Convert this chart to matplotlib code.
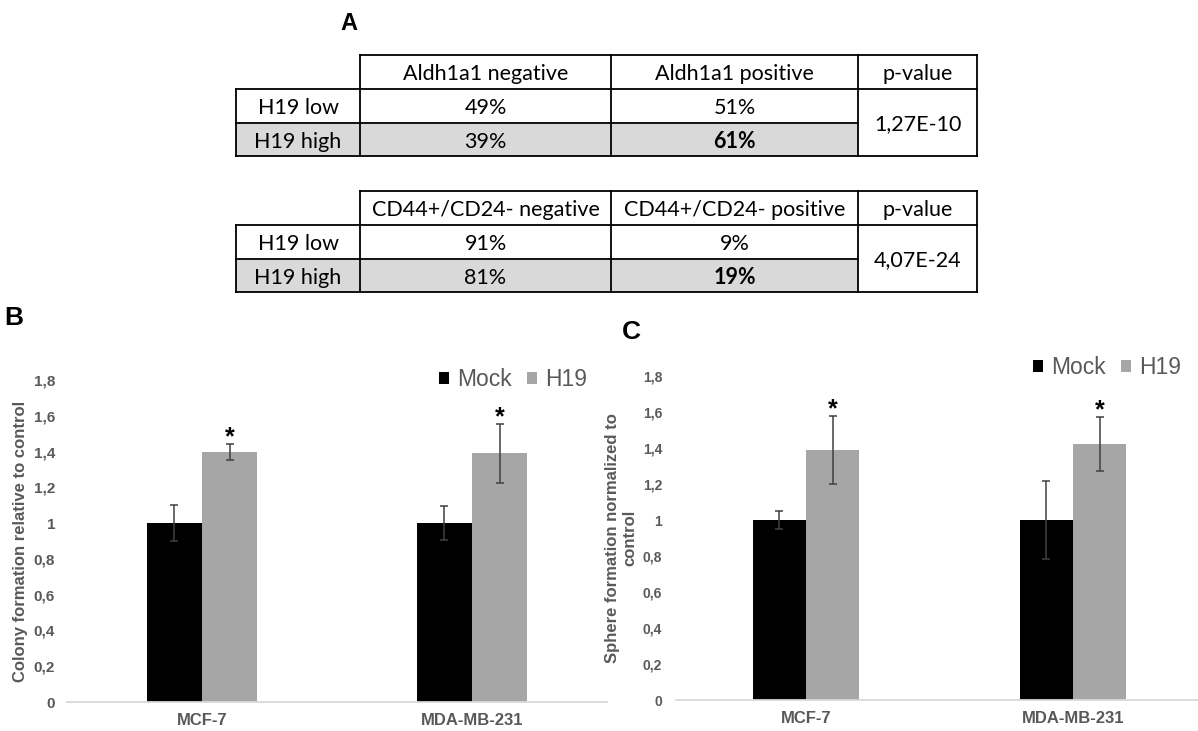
import matplotlib
matplotlib.use('Agg')
import matplotlib.pyplot as plt
import numpy as np
from matplotlib.patches import Rectangle, Patch

# datos de las tablas (panel A)
row_names = ['H19 low', 'H19 high']
aldh_cols = ['Aldh1a1 negative', 'Aldh1a1 positive', 'p-value']
aldh_vals = [['49%', '51%'], ['39%', '61%']]
aldh_p = '1,27E-10'
cd_cols = ['CD44+/CD24- negative', 'CD44+/CD24- positive', 'p-value']
cd_vals = [['91%', '9%'], ['81%', '19%']]
cd_p = '4,07E-24'

# datos de las barras (paneles B y C)
cells = ['MCF-7', 'MDA-MB-231']
series = ['Mock', 'H19']
colony_mock = [1.0, 1.0]
colony_mock_err = [0.10, 0.095]
colony_h19 = [1.40, 1.39]
colony_h19_err = [0.045, 0.165]
sphere_mock = [1.0, 1.0]
sphere_mock_err = [0.05, 0.215]
sphere_h19 = [1.39, 1.425]
sphere_h19_err = [0.19, 0.15]
yticks = [round(0.2 * i, 1) for i in range(10)]

grey_txt = '#595959'
tick_font = 'Liberation Sans'
table_font = 'Lato'
table_size = 15.5

fig = plt.figure(figsize=(11.98, 7.31), dpi=100)

# capa en pixeles para las tablas y letras
over = fig.add_axes([0, 0, 1, 1])
over.set_xlim(0, 1198)
over.set_ylim(731, 0)
over.axis('off')


def draw_table(ax, top, cols, vals, pval):
    xs = [236, 360, 611, 858, 977]
    ys = [top, top + 34, top + 68, top + 101]
    ax.add_patch(Rectangle((xs[0], ys[2]), xs[3] - xs[0], ys[3] - ys[2],
                           facecolor='#d9d9d9', edgecolor='none'))
    lw = 1.3
    ax.plot([xs[1], xs[4]], [ys[0], ys[0]], color='black', lw=lw)
    ax.plot([xs[0], xs[4]], [ys[1], ys[1]], color='black', lw=lw)
    ax.plot([xs[0], xs[3]], [ys[2], ys[2]], color='black', lw=lw)
    ax.plot([xs[0], xs[4]], [ys[3], ys[3]], color='black', lw=lw)
    ax.plot([xs[0], xs[0]], [ys[1], ys[3]], color='black', lw=lw)
    for x in xs[1:]:
        ax.plot([x, x], [ys[0], ys[3]], color='black', lw=lw)
    for j, c in enumerate(cols):
        ax.text((xs[j + 1] + xs[j + 2]) / 2, (ys[0] + ys[1]) / 2 + 2, c,
                ha='center', va='center', fontsize=table_size, family=table_font)
    for i, r in enumerate(row_names):
        yc = (ys[i + 1] + ys[i + 2]) / 2 + 2
        ax.text((xs[0] + xs[1]) / 2, yc, r, ha='center', va='center',
                fontsize=table_size, family=table_font)
        for j, v in enumerate(vals[i]):
            bold = (i == 1 and j == 1)
            ax.text((xs[j + 1] + xs[j + 2]) / 2, yc, v, ha='center', va='center',
                    fontsize=table_size, family=table_font,
                    fontweight='bold' if bold else 'normal')
    ax.text((xs[3] + xs[4]) / 2, (ys[1] + ys[3]) / 2 + 2, pval, ha='center',
            va='center', fontsize=table_size, family=table_font)


draw_table(over, 55, aldh_cols, aldh_vals, aldh_p)
draw_table(over, 191, cd_cols, cd_vals, cd_p)

over.text(349, 24, 'A', ha='center', va='center', fontsize=17,
          fontweight='bold', family=tick_font)
over.text(14, 318, 'B', ha='center', va='center', fontsize=19,
          fontweight='bold', family=tick_font)
over.text(631, 332, 'C', ha='center', va='center', fontsize=19,
          fontweight='bold', family=tick_font)


def bar_panel(rect, xlim, mock, mock_err, h19, h19_err, ylabel, leg_xy, width,
              ysize, ypad):
    ax = fig.add_axes(rect)
    x = np.arange(len(cells))
    ekw = dict(ecolor='#404040', elinewidth=1.1, capsize=3, capthick=1.1)
    ax.bar(x - width / 2, mock, width, yerr=mock_err, color='black',
           error_kw=ekw, label=series[0])
    ax.bar(x + width / 2, h19, width, yerr=h19_err, color='#a6a6a6',
           error_kw=ekw, label=series[1])
    for xi, v, e in zip(x, h19, h19_err):
        ax.annotate('*', (xi + width / 2, v + e), xytext=(0, -4),
                    textcoords='offset points', ha='center', va='bottom',
                    fontsize=18, fontweight='bold', family=tick_font)
    ax.set_xlim(*xlim)
    ax.set_ylim(0, 1.8)
    ax.set_yticks(yticks)
    ax.set_yticklabels([f'{v:g}'.replace('.', ',') for v in yticks])
    ax.set_xticks(x)
    ax.set_xticklabels(cells)
    for lab in ax.get_yticklabels() + ax.get_xticklabels():
        lab.set_fontweight('bold')
        lab.set_color(grey_txt)
        lab.set_family(tick_font)
    ax.tick_params(axis='y', length=0, labelsize=ysize, pad=ypad)
    ax.tick_params(axis='x', length=0, labelsize=12, pad=8)
    for s in ax.spines.values():
        s.set_visible(False)
    ax.axhline(0, color='#d9d9d9', lw=1.3, clip_on=False)
    ax.set_ylabel(ylabel, fontsize=12, fontweight='bold', color=grey_txt,
                  family=tick_font, labelpad=4, linespacing=1.15)
    handles = [Patch(facecolor='black'), Patch(facecolor='#a6a6a6')]
    leg = ax.legend(handles, series, loc='center', bbox_to_anchor=leg_xy,
                    ncol=2, frameon=False, handlelength=0.45,
                    handleheight=0.45, handletextpad=0.35, columnspacing=0.65,
                    prop={'family': tick_font, 'size': 16.5})
    for t in leg.get_texts():
        t.set_color(grey_txt)
    ax.patch.set_alpha(0)
    return ax


# panel B
bar_panel([67 / 1198, 29 / 731, 540 / 1198, 322 / 731], (-0.5, 1.5),
          colony_mock, colony_mock_err, colony_h19, colony_h19_err,
          'Colony formation relative to control', (0.826, 1.0), 0.204, 11, 8.6)

# panel C
bar_panel([676 / 1198, 31 / 731, 522 / 1198, 324 / 731], (-0.487, 1.468),
          sphere_mock, sphere_mock_err, sphere_h19, sphere_h19_err,
          'Sphere formation normalized to\ncontrol', (0.826, 1.025), 0.2, 10, 10)

fig.savefig('out.png', dpi=100)
